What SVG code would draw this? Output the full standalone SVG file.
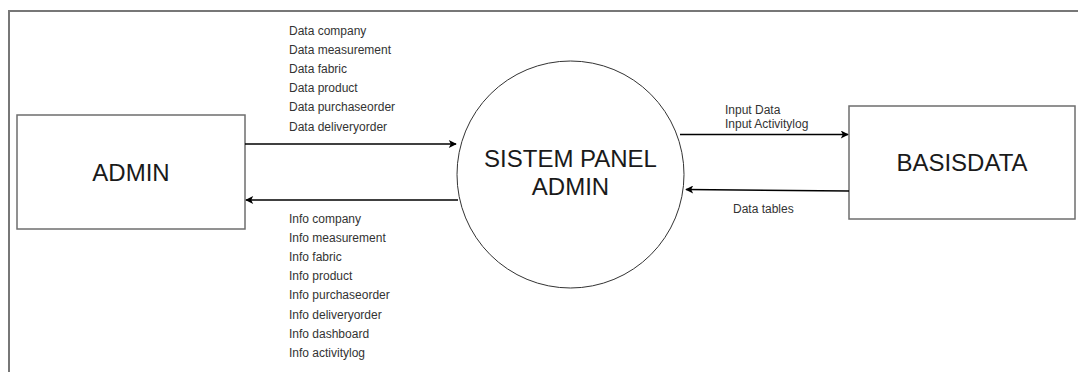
<svg xmlns="http://www.w3.org/2000/svg" width="1078" height="372" viewBox="0 0 1078 372">
  <style>
    .frame { fill: none; stroke: #777777; stroke-width: 2; }
    .box { fill: #ffffff; stroke: #6e6e6e; stroke-width: 1.5; }
    .proc { fill: #ffffff; stroke: #333333; stroke-width: 1; }
    .title { font-family: "Liberation Sans", Arial, sans-serif; font-size: 24px; fill: #1a1a1a; text-anchor: middle; }
    .label { font-family: "Liberation Sans", Arial, sans-serif; font-size: 12px; fill: #333333; }
    .flow { fill: none; stroke: #000000; stroke-width: 1.5; marker-end: url(#arrow); }
  </style>
  <defs>
    <marker id="arrow" viewBox="0 0 10 10" refX="9" refY="5" markerWidth="9" markerHeight="8" markerUnits="userSpaceOnUse" orient="auto">
      <path d="M0,0 L10,5 L0,10 L2.5,5 Z" fill="#000000"/>
    </marker>
  </defs>
  <rect width="1078" height="372" fill="#ffffff"/>
  <!-- outer frame -->
  <rect class="frame" x="9" y="11" width="1090" height="380"/>

  <g id="admin">
    <rect class="box" x="17" y="115" width="228" height="114"/>
    <text class="title" x="131" y="181">ADMIN</text>
  </g>

  <g id="sistem-panel-admin">
    <circle class="proc" cx="570.5" cy="174.5" r="113.5"/>
    <text class="title" x="570.5" y="167">SISTEM PANEL</text>
    <text class="title" x="570.5" y="195">ADMIN</text>
  </g>

  <g id="basisdata">
    <rect class="box" x="849" y="106" width="226" height="113"/>
    <text class="title" x="962" y="171">BASISDATA</text>
  </g>

  <g id="connectors">
    <line class="flow" x1="245" y1="144" x2="456" y2="144"/>
    <line class="flow" x1="458" y1="200" x2="246" y2="200"/>
    <line class="flow" x1="680" y1="134.5" x2="848" y2="134.5"/>
    <line class="flow" x1="849" y1="191" x2="686" y2="189.5"/>
  </g>

  <g id="labels">
    <text class="label" x="289" y="34.5">Data company</text>
    <text class="label" x="289" y="53.7">Data measurement</text>
    <text class="label" x="289" y="72.9">Data fabric</text>
    <text class="label" x="289" y="92.1">Data product</text>
    <text class="label" x="289" y="111.3">Data purchaseorder</text>
    <text class="label" x="289" y="130.5">Data deliveryorder</text>

    <text class="label" x="289" y="223">Info company</text>
    <text class="label" x="289" y="242.1">Info measurement</text>
    <text class="label" x="289" y="261.2">Info fabric</text>
    <text class="label" x="289" y="280.3">Info product</text>
    <text class="label" x="289" y="299.4">Info purchaseorder</text>
    <text class="label" x="289" y="318.5">Info deliveryorder</text>
    <text class="label" x="289" y="337.6">Info dashboard</text>
    <text class="label" x="289" y="356.7">Info activitylog</text>

    <text class="label" x="725" y="113.5">Input Data</text>
    <text class="label" x="725" y="128">Input Activitylog</text>
    <text class="label" x="733" y="212.5">Data tables</text>
  </g>
</svg>
